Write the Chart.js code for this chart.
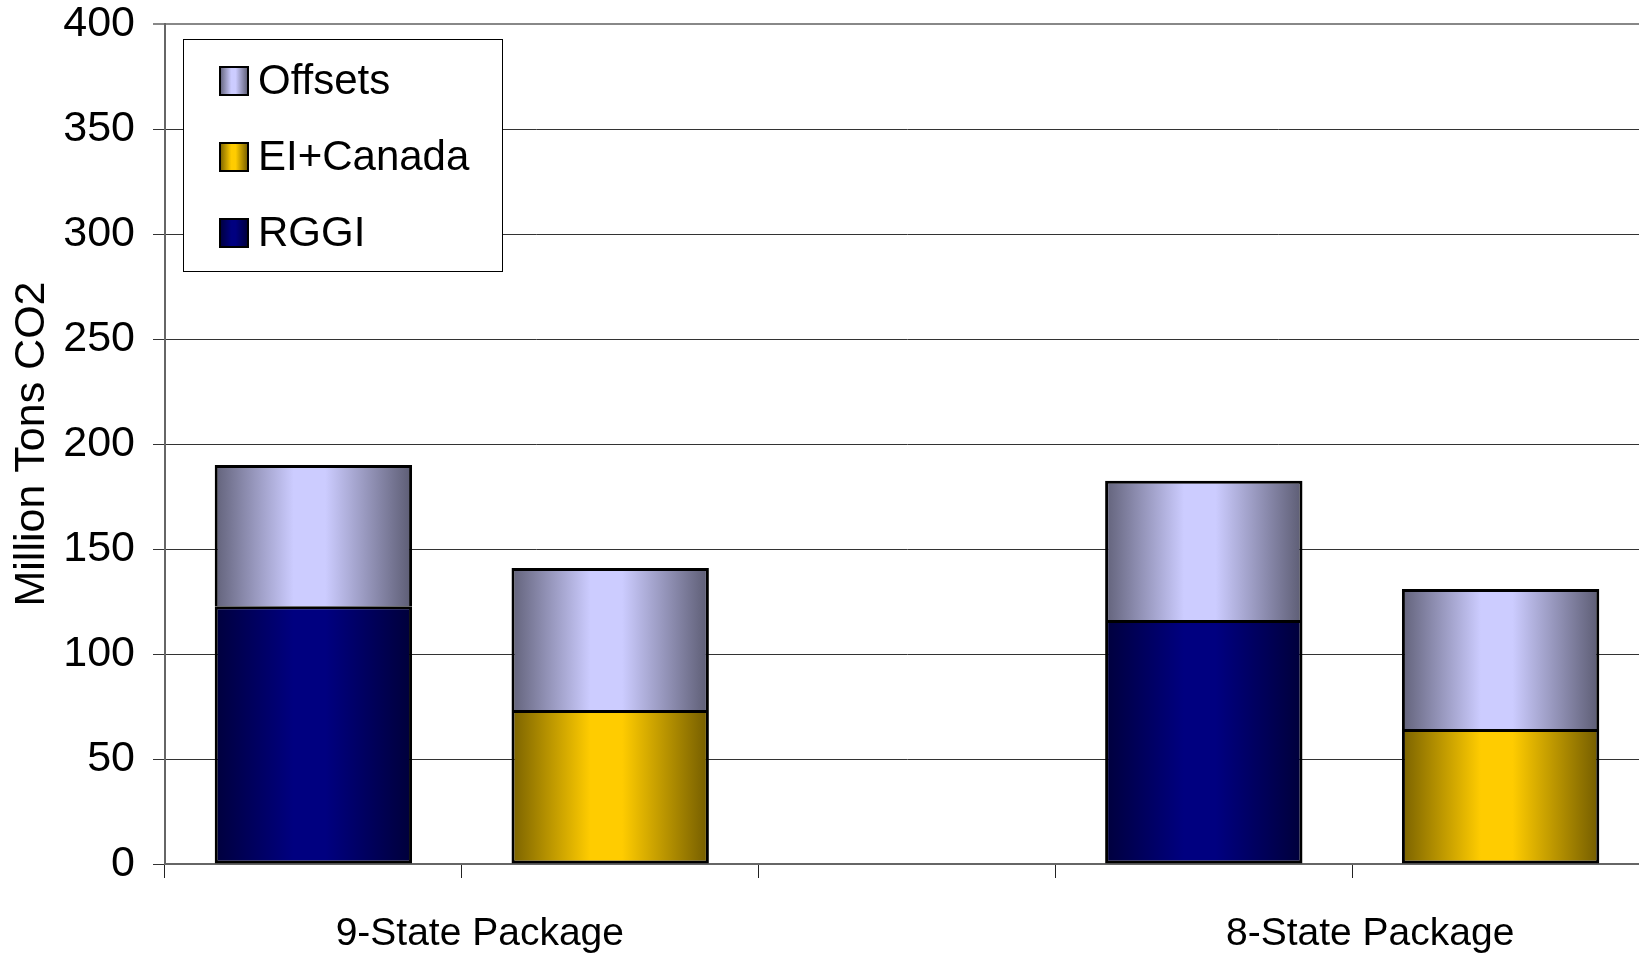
<!DOCTYPE html>
<html>
<head>
<meta charset="utf-8">
<script src="https://cdn.jsdelivr.net/npm/chart.js@4.4.0/dist/chart.umd.min.js"></script>
<style>
  html, body { margin: 0; padding: 0; background: #fff; overflow: hidden; }
  #wrap { width: 1639px; height: 953px; overflow: hidden; }
</style>
</head>
<body>
<div id="wrap">
  <canvas id="co2Chart" width="1660" height="953"></canvas>
</div>
<script>
// data (million tons CO2)
const categories = ['', '', '', '', ''];
const groupLabels = ['9-State Package', '8-State Package'];
const groupSpans = [[0, 1], [3, 4]];

const rggi = [122.7, null, null, 116.2, null];
const eiCanada = [null, 73.3, null, null, 64.3];
const offsets = [67.3, 67.6, null, 66.3, 66.6];

const yMin = 0;
const yMax = 400;
const yStep = 50;

const BAR_PCT = 0.665;
const FONT = '"Liberation Sans", Arial, sans-serif';

// darken a hex colour
function shade(hex, f) {
  const n = parseInt(hex.slice(1), 16);
  const r = Math.round(((n >> 16) & 255) * f);
  const g = Math.round(((n >> 8) & 255) * f);
  const b = Math.round((n & 255) * f);
  return `rgb(${r},${g},${b})`;
}

// horizontal "dark - light - dark" shading like the old office charts
function makeGradient(ctx, x1, x2, color) {
  const grad = ctx.createLinearGradient(x1, 0, x2, 0);
  grad.addColorStop(0, shade(color, 0.48));
  grad.addColorStop(0.4, color);
  grad.addColorStop(0.56, color);
  grad.addColorStop(1, shade(color, 0.45));
  return grad;
}

function barFill(color) {
  return (c) => {
    const chart = c.chart;
    const xs = chart.scales.x;
    if (!xs || c.dataIndex === undefined || !chart.chartArea) return color;
    const cx = xs.getPixelForValue(c.dataIndex);
    const slot = Math.abs(xs.getPixelForValue(1) - xs.getPixelForValue(0));
    const half = slot * BAR_PCT / 2;
    return makeGradient(chart.ctx, cx - half, cx + half, color);
  };
}

// legend in a framed box inside the plot
const boxLegend = {
  id: 'boxLegend',
  afterDraw(chart) {
    const { ctx, chartArea } = chart;
    const x0 = chartArea.left + 18;
    const y0 = chartArea.top + 15;
    const w = 319, h = 232;
    ctx.save();
    ctx.fillStyle = '#fff';
    ctx.fillRect(x0, y0, w, h);
    ctx.strokeStyle = '#000';
    ctx.lineWidth = 1;
    ctx.strokeRect(x0 + 0.5, y0 + 0.5, w, h);

    const items = chart.data.datasets.slice().reverse();
    items.forEach((ds, i) => {
      const cy = y0 + 42 + i * 76;
      const sx = x0 + 37;
      ctx.fillStyle = makeGradient(ctx, sx, sx + 28, ds.baseColor);
      ctx.fillRect(sx, cy - 14, 28, 28);
      ctx.lineWidth = 2;
      ctx.strokeStyle = '#000';
      ctx.strokeRect(sx, cy - 14, 28, 28);
      ctx.fillStyle = '#000';
      ctx.font = '42px ' + FONT;
      ctx.textBaseline = 'middle';
      ctx.textAlign = 'left';
      ctx.fillText(ds.label, x0 + 75, cy + 1);
    });
    ctx.restore();
  }
};

// group labels under pairs of categories
const groupAxisLabels = {
  id: 'groupAxisLabels',
  afterDraw(chart) {
    const { ctx } = chart;
    const xs = chart.scales.x;
    ctx.save();
    ctx.fillStyle = '#000';
    ctx.font = '39px ' + FONT;
    ctx.textAlign = 'center';
    ctx.textBaseline = 'middle';
    groupLabels.forEach((label, i) => {
      const [a, b] = groupSpans[i];
      const x = (xs.getPixelForValue(a) + xs.getPixelForValue(b)) / 2 + 18;
      ctx.fillText(label, x, xs.top + 70);
    });
    ctx.restore();
  }
};

const ctx = document.getElementById('co2Chart').getContext('2d');

// top segments skip their bottom edge so the joint is a single line
const edge = (bottom) => ({ top: 3, left: 3, right: 3, bottom: bottom });

new Chart(ctx, {
  type: 'bar',
  data: {
    labels: categories,
    datasets: [
      { label: 'RGGI', data: rggi, baseColor: '#000080', backgroundColor: barFill('#000080'), borderWidth: edge(3) },
      { label: 'EI+Canada', data: eiCanada, baseColor: '#FFCC00', backgroundColor: barFill('#FFCC00'), borderWidth: edge(3) },
      { label: 'Offsets', data: offsets, baseColor: '#CCCCFF', backgroundColor: barFill('#CCCCFF'), borderWidth: edge(0) }
    ].map(ds => Object.assign(ds, {
      borderColor: '#000',
      borderSkipped: false,
      categoryPercentage: 1,
      barPercentage: BAR_PCT
    }))
  },
  options: {
    responsive: false,
    animation: false,
    layout: { padding: { top: 24, right: 11, left: 0, bottom: 0 } },
    plugins: {
      legend: { display: false },
      tooltip: { enabled: false }
    },
    scales: {
      x: {
        stacked: true,
        afterFit: (s) => { s.height = 89; },
        grid: {
          offset: true,
          drawOnChartArea: false,
          drawTicks: true,
          tickLength: 14,
          color: '#222',
          lineWidth: 1
        },
        border: { color: '#666', width: 2 },
        ticks: { display: false }
      },
      y: {
        stacked: true,
        min: yMin,
        max: yMax,
        afterFit: (s) => {
          s.width = 165;
          s.paddingTop = 0;
          s.paddingBottom = 0;
        },
        ticks: {
          stepSize: yStep,
          padding: 18,
          color: '#000',
          font: { family: FONT, size: 43 }
        },
        grid: {
          color: (c) => (c.tick && c.tick.value === yMax ? '#888' : '#333'),
          lineWidth: (c) => (c.tick && c.tick.value === yMax ? 2 : 1),
          tickLength: 12
        },
        border: { color: '#666', width: 2 },
        title: {
          display: true,
          text: 'Million Tons CO2',
          color: '#000',
          font: { family: FONT, size: 43 },
          padding: { top: 6, bottom: 0 }
        }
      }
    }
  },
  plugins: [boxLegend, groupAxisLabels]
});
</script>
</body>
</html>
